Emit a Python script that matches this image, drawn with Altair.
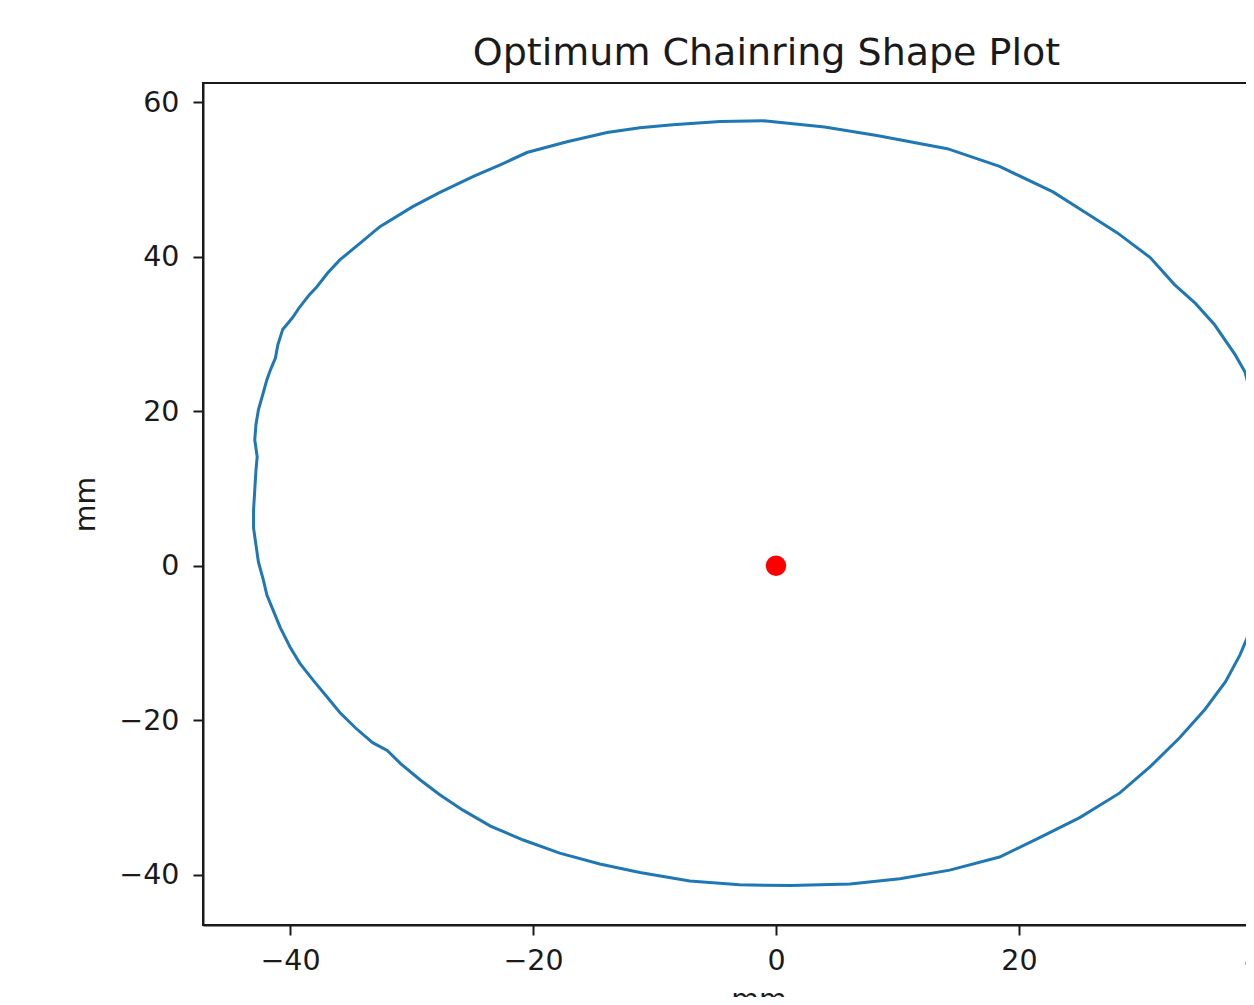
import altair as alt
import pandas as pd

# Chainring outline (mm), traced clockwise from the top
x_mm = [-1.0, 4.0, 8.3, 14.1, 18.4, 22.8, 25.4, 28.1, 30.8, 32.8, 34.5, 36.1, 37.8, 38.6, 39.1, 39.5,
        39.8, 40.2, 40.2, 39.9, 39.6, 39.3, 39.0, 38.2, 37.0, 35.3, 33.2, 30.8, 28.3, 25.0, 21.7, 18.4,
        14.3, 10.2, 6.1, 1.2, -3.0, -7.1, -11.2, -14.5, -17.8, -20.8, -23.5, -25.8, -27.7, -29.3, -30.9,
        -32.0, -33.2, -34.6, -35.9, -37.1, -38.1, -39.2, -40.0, -40.8, -41.4, -41.9, -42.2, -42.6, -42.8,
        -43.0, -43.0, -42.9, -42.8, -42.7, -42.9, -42.8, -42.6, -42.2, -41.9, -41.6, -41.2, -41.0, -40.6,
        -39.8, -39.2, -38.4, -37.8, -36.9, -35.9, -34.2, -32.6, -29.9, -27.7, -24.9, -22.7, -20.5, -17.2,
        -13.9, -11.2, -8.5, -4.6, -1.0]
y_mm = [57.6, 56.8, 55.7, 54.0, 51.7, 48.4, 45.8, 43.1, 39.9, 36.4, 34.0, 31.2, 27.3, 25.1, 22.1, 18.9,
        15.0, 9.8, 4.7, -0.5, -4.4, -6.3, -8.5, -11.5, -15.0, -18.6, -22.3, -26.0, -29.4, -32.6, -35.2, -37.7,
        -39.4, -40.5, -41.2, -41.4, -41.3, -40.8, -39.7, -38.6, -37.2, -35.5, -33.7, -31.6, -29.6, -27.7, -25.6,
        -23.9, -22.9, -21.0, -19.0, -16.7, -14.8, -12.6, -10.5, -8.0, -5.7, -3.8, -1.8, 0.5, 2.7,
        4.9, 7.2, 9.8, 12.4, 14.1, 16.3, 18.3, 20.2, 22.4, 24.1, 25.4, 26.9, 28.6, 30.6,
        32.1, 33.5, 35.1, 36.1, 37.9, 39.6, 41.8, 43.9, 46.5, 48.3, 50.4, 51.9, 53.5, 54.9,
        56.1, 56.7, 57.1, 57.5, 57.6]

center_x = [0.0]
center_y = [0.0]

x_ticks = [-40, -20, 0, 20, 40]
y_ticks = [-40, -20, 0, 20, 40, 60]

FONT = "DejaVu Sans"
INK = "#1a1a1a"

df = pd.DataFrame({"x": x_mm, "y": y_mm, "i": list(range(len(x_mm)))})
dc = pd.DataFrame({"x": center_x, "y": center_y})

xscale = alt.Scale(domain=[-47.16, 44.28], nice=False, zero=False)
yscale = alt.Scale(domain=[-46.5, 62.5], nice=False, zero=False)
minus = "replace(datum.label, '-', '\u2212')"

line = alt.Chart(df).mark_line(color="#1f77b4", strokeWidth=3, clip=True).encode(
    x=alt.X("x:Q", scale=xscale,
            axis=alt.Axis(values=x_ticks, format="d", labelExpr=minus, title="mm",
                          labelPadding=11, titlePadding=34, titleBaseline="alphabetic")),
    y=alt.Y("y:Q", scale=yscale,
            axis=alt.Axis(values=y_ticks, format="d", labelExpr=minus, title="mm",
                          labelPadding=14, titlePadding=24, titleBaseline="alphabetic")),
    order=alt.Order("i:Q"),
)

dot = alt.Chart(dc).mark_circle(color="#ff0000", opacity=1, size=415).encode(
    x=alt.X("x:Q", scale=xscale),
    y=alt.Y("y:Q", scale=yscale),
)

chart = alt.layer(line, dot).properties(
    width=1111,
    height=842,
    title=alt.TitleParams(text="Optimum Chainring Shape Plot", font=FONT, fontSize=38,
                          fontWeight="normal", color=INK, anchor="middle", frame="group",
                          baseline="alphabetic", offset=18, dx=8, dy=38),
    padding={"left": 195, "top": 75, "right": -68, "bottom": 72},
    autosize=alt.AutoSizeParams(type="none"),
    background="white",
).configure_view(
    stroke=INK, strokeWidth=2
).configure_axis(
    grid=False,
    labelFont=FONT, labelFontSize=28.5, labelColor=INK,
    titleFont=FONT, titleFontSize=28.5, titleFontWeight="normal", titleColor=INK,
    tickColor=INK, tickWidth=2, tickSize=10,
    domainColor=INK, domainWidth=2,
    labelFlush=False, labelOverlap=False,
)

chart.save("out.html", embed_options={"renderer": "svg", "actions": False})
